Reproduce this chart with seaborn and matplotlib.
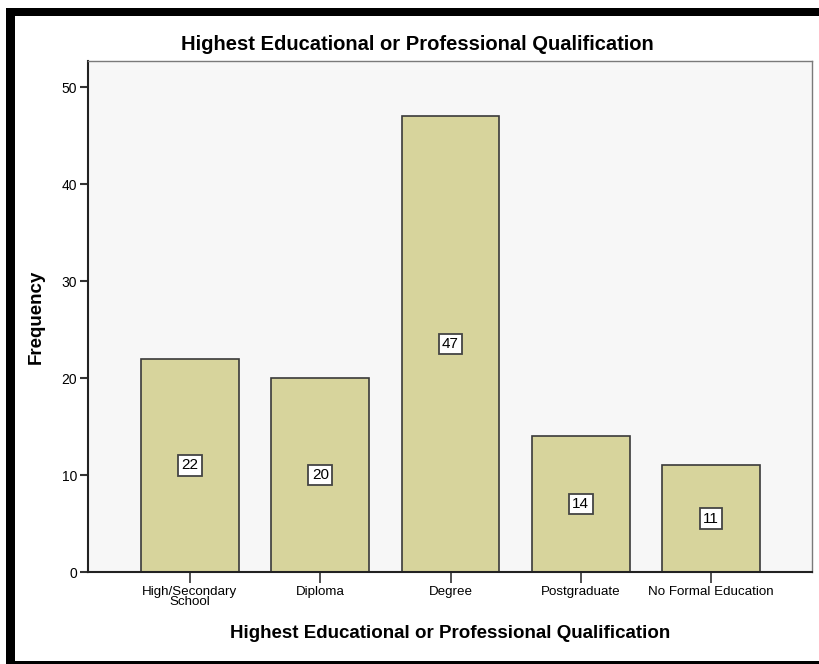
import matplotlib
matplotlib.use("Agg")
import matplotlib.pyplot as plt
import seaborn as sns
import pandas as pd
from matplotlib.patches import Rectangle

categories = ["High/Secondary\nSchool", "Diploma", "Degree", "Postgraduate", "No Formal Education"]
frequency = [22, 20, 47, 14, 11]
yticks = [0, 10, 20, 30, 40, 50]

df = pd.DataFrame({"cat": categories, "freq": frequency})

sns.set_theme(style="white")
plt.rcParams["font.family"] = ["Liberation Sans", "DejaVu Sans"]
plt.rcParams["text.color"] = "black"
plt.rcParams["axes.labelcolor"] = "black"
plt.rcParams["xtick.color"] = "black"
plt.rcParams["ytick.color"] = "black"

W, H = 820, 664
fig = plt.figure(figsize=(8.2, 6.64), dpi=100)
fig.patch.set_facecolor("white")

left, right, top, bottom = 88, 812, 61, 572
ax = fig.add_axes([left / W, 1 - bottom / H, (right - left) / W, (bottom - top) / H])
ax.set_facecolor("#F7F7F7")

sns.barplot(data=df, x="cat", y="freq", color="#D7D49C", saturation=1,
            edgecolor="#3a3a3a", linewidth=1.2, width=0.75, ax=ax)

ax.set_xlim(-0.783, 4.775)
ax.set_ylim(0, 52.7)
ax.set_yticks(yticks)
ax.set_yticklabels([str(t) for t in yticks], fontsize=10)
ax.tick_params(axis="y", which="major", left=True, length=6, width=1.5, color="#333333", pad=2)
ax.tick_params(axis="x", which="major", bottom=True, length=8, width=1.2, color="#333333",
               pad=2, labelsize=9.6)
for lbl in ax.get_xticklabels():
    lbl.set_linespacing(0.8)

for s in ["top", "right"]:
    ax.spines[s].set_color("#7a7a7a")
    ax.spines[s].set_linewidth(1.0)
for s in ["left", "bottom"]:
    ax.spines[s].set_color("#222222")
    ax.spines[s].set_linewidth(1.5)

for i, v in enumerate(frequency):
    ax.text(i, v / 2, str(v), ha="center", va="center", fontsize=11,
            bbox=dict(boxstyle="square,pad=0.22", facecolor="white", edgecolor="#444444", linewidth=1.3))

ax.set_xlabel("Highest Educational or Professional Qualification", fontsize=13.5,
              fontweight="bold", labelpad=12)
ax.set_ylabel("Frequency", fontsize=13.5, fontweight="bold", labelpad=12)
fig.text(417 / W, 1 - 44 / H, "Highest Educational or Professional Qualification",
         fontsize=14.5, fontweight="bold", ha="center", va="center")

# outer frame
fig.patches.append(Rectangle((6 / W, 1 - 16 / H), (W - 6) / W, 8 / H, transform=fig.transFigure,
                             facecolor="black", edgecolor="none", zorder=10))
fig.patches.append(Rectangle((6 / W, 0), 9 / W, 1 - 8 / H, transform=fig.transFigure,
                             facecolor="black", edgecolor="none", zorder=10))
fig.patches.append(Rectangle((6 / W, 0), (W - 6) / W, 3 / H, transform=fig.transFigure,
                             facecolor="black", edgecolor="none", zorder=10))

fig.savefig("out.png", dpi=100)
